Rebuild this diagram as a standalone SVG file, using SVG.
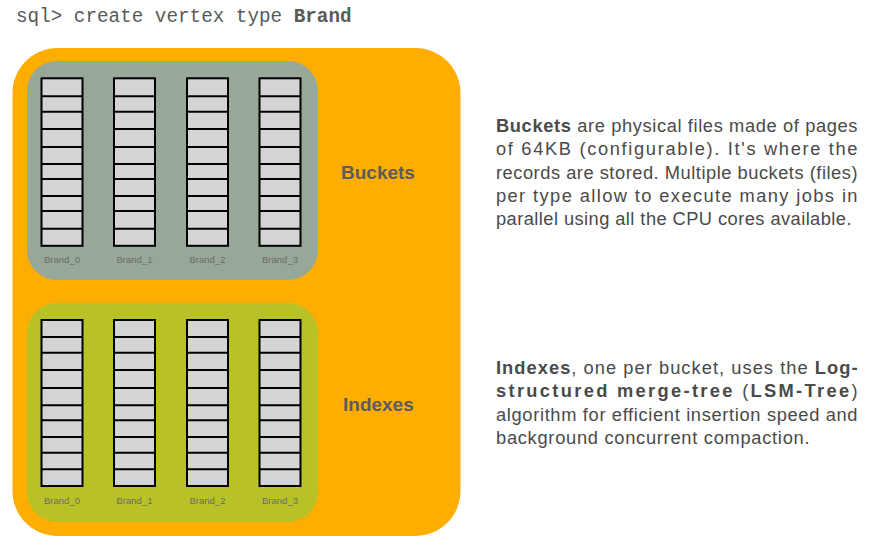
<svg xmlns="http://www.w3.org/2000/svg" width="872" height="554" viewBox="0 0 872 554">
<style>
.cell{fill:#D4D4D4;stroke:#000;stroke-width:2}
.ln{stroke:#000;stroke-width:2}
.lbl{font-family:"Liberation Sans",Arial,sans-serif;font-size:9.5px;fill:#6a6a6a;text-anchor:middle}
.big{font-family:"Liberation Sans",Arial,sans-serif;font-size:19px;font-weight:bold;fill:#5c5c5c}
.p{font-family:"Liberation Sans",Arial,sans-serif;font-size:18.3px;letter-spacing:0.5px;fill:#4a4a4a}
.b{font-weight:bold}
.mono{font-family:"Liberation Mono","Courier New",monospace;font-size:19.3px;fill:#5a5a5a}
</style>
<defs>
<g id="bcol">
<rect class="cell" x="0" y="0" width="41" height="167.5"/>
<path class="ln" d="M0 18H41M0 33.4H41M0 50.7H41M0 68.7H41M0 85.7H41M0 100.7H41M0 117.7H41M0 132.7H41M0 150.4H41"/>
</g>
<g id="icol">
<rect class="cell" x="0" y="0" width="41" height="166"/>
<path class="ln" d="M0 17H41M0 32.7H41M0 50H41M0 68H41M0 85.3H41M0 100.3H41M0 117H41M0 132.7H41M0 149.3H41"/>
</g>
</defs>
<text class="mono" x="16" y="22">sql&gt; create vertex type <tspan font-weight="bold">Brand</tspan></text>
<g id="container">
<rect x="12.5" y="48" width="448" height="488" rx="45" fill="#FFAD00"/>
</g>
<g id="buckets">
<rect x="27" y="61" width="291" height="219" rx="30" fill="#97A899"/>
<use href="#bcol" x="41.5" y="78.3"/>
<use href="#bcol" x="114" y="78.3"/>
<use href="#bcol" x="187" y="78.3"/>
<use href="#bcol" x="259.5" y="78.3"/>
<text class="lbl" x="62" y="263">Brand_0</text>
<text class="lbl" x="134.5" y="263">Brand_1</text>
<text class="lbl" x="207.5" y="263">Brand_2</text>
<text class="lbl" x="280" y="263">Brand_3</text>
<text class="big" x="341" y="178.5">Buckets</text>
</g>
<g id="indexes">
<rect x="27" y="303" width="291" height="219" rx="30" fill="#B8C227"/>
<use href="#icol" x="41.5" y="320"/>
<use href="#icol" x="114" y="320"/>
<use href="#icol" x="187" y="320"/>
<use href="#icol" x="259.5" y="320"/>
<text class="lbl" x="62" y="504">Brand_0</text>
<text class="lbl" x="134.5" y="504">Brand_1</text>
<text class="lbl" x="207.5" y="504">Brand_2</text>
<text class="lbl" x="280" y="504">Brand_3</text>
<text class="big" x="343" y="411">Indexes</text>
</g>
<g id="buckets-text">
<text class="p" x="496" y="132" textLength="362" lengthAdjust="spacing"><tspan class="b">Buckets</tspan> are physical files made of pages</text>
<text class="p" x="496" y="155.3" textLength="362" lengthAdjust="spacing">of 64KB (configurable). It's where the</text>
<text class="p" x="496" y="178.6" textLength="362" lengthAdjust="spacing">records are stored. Multiple buckets (files)</text>
<text class="p" x="496" y="201.9" textLength="362" lengthAdjust="spacing">per type allow to execute many jobs in</text>
<text class="p" x="496" y="225.2" textLength="356" lengthAdjust="spacing">parallel using all the CPU cores available.</text>
</g>
<g id="indexes-text">
<text class="p" x="496" y="374" textLength="362" lengthAdjust="spacing"><tspan class="b">Indexes</tspan>, one per bucket, uses the <tspan class="b">Log-</tspan></text>
<text class="p" x="496" y="397.3" textLength="362" lengthAdjust="spacing"><tspan class="b">structured merge-tree</tspan> (<tspan class="b">LSM-Tree</tspan>)</text>
<text class="p" x="496" y="420.6" textLength="362" lengthAdjust="spacing">algorithm for efficient insertion speed and</text>
<text class="p" x="496" y="443.9" textLength="314" lengthAdjust="spacing">background concurrent compaction.</text>
</g>
</svg>
